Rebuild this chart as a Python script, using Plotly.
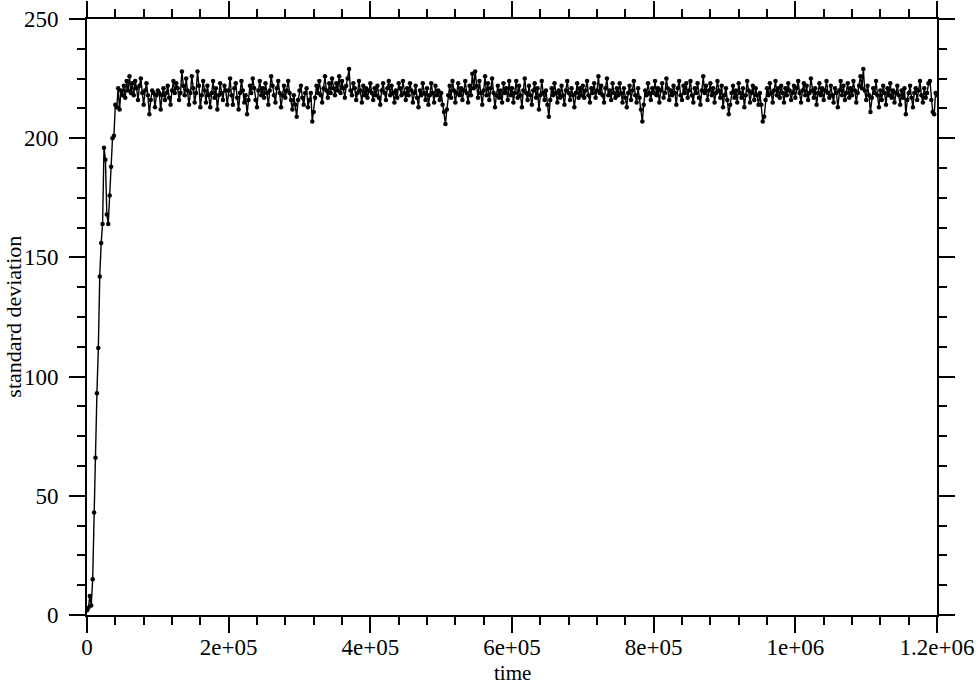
import plotly.graph_objects as go

step = 2000
rows = [
    [2,3,8,4,15,43,66,93,112,142,156,164,196,191,168,164,176,188,200,201,214,213,221,212,220],
    [218,222,217,224,220,226,219,223,218,224,221,216,222,225,219,214,220,223,218,210,216,220,219,213,218],
    [220,219,212,218,221,216,219,222,217,214,220,224,219,223,221,216,219,228,222,218,225,220,214,219,226],
    [221,215,219,228,222,213,218,224,220,215,222,218,213,219,224,217,221,212,218,223,219,216,222,220,214],
    [220,225,218,214,221,223,217,212,219,224,220,215,218,210,216,222,219,225,221,216,213,220,224,218,221],
    [217,223,219,214,220,226,222,218,215,221,224,219,213,218,222,217,220,224,219,216,212,218,214,209,216],
    [220,222,217,214,219,221,213,216,219,207,211,217,222,219,224,218,215,221,226,220,217,223,219,225,221],
    [218,223,220,226,219,224,221,217,222,225,229,220,218,223,221,216,219,224,220,215,222,218,221,217,220],
    [223,219,216,221,218,222,217,214,220,223,219,216,221,224,218,222,219,215,220,217,223,221,218,224,219],
    [216,221,218,223,220,215,219,222,217,213,220,218,223,219,216,221,214,218,223,219,215,222,218,220,216],
    [219,214,211,206,212,218,222,217,224,220,215,219,223,218,221,216,220,224,219,215,222,218,227,221,228],
    [222,217,224,219,214,220,226,218,223,216,221,225,219,213,218,222,217,220,215,223,219,221,216,224,218],
    [221,215,219,224,217,222,218,213,220,225,219,216,222,218,214,220,223,217,221,212,218,224,219,216,220],
    [214,209,216,221,218,223,219,215,220,217,222,218,214,220,224,219,216,221,218,213,219,223,217,221,218],
    [222,217,220,224,218,215,221,219,223,217,220,226,219,222,218,215,221,225,218,220,216,223,219,217,221],
    [218,223,219,215,221,217,213,219,222,216,220,224,218,215,221,217,212,207,214,220,218,223,219,216,221],
    [219,224,218,221,215,220,223,217,219,225,221,216,220,218,222,219,214,221,224,218,216,222,219,223,217],
    [220,224,218,215,221,219,223,217,214,220,226,219,222,216,220,223,218,221,215,219,224,220,217,222,213],
    [218,221,216,210,214,219,222,217,220,215,223,219,217,221,213,218,224,220,215,219,222,216,221,218,214],
    [219,214,207,209,216,221,218,223,219,215,220,224,218,221,217,222,219,215,221,218,223,220,216,219,222],
    [217,221,224,219,215,220,223,218,222,216,219,225,220,217,221,214,219,223,218,221,216,220,224,219,217],
    [222,218,215,221,219,213,220,224,218,222,216,219,223,217,221,218,224,220,215,219,222,226,221,229,220],
    [216,222,218,211,217,221,219,224,218,213,220,216,222,219,214,221,218,223,217,220,215,219,222,218,214],
    [220,217,221,210,216,219,222,217,213,219,221,216,220,224,218,215,221,217,219,223,224,216,211,210,219],
    [218],
]
std_values = [v for r in rows for v in r]
times = [i * step for i in range(len(std_values))]

x_tickvals = [0, 200000, 400000, 600000, 800000, 1000000, 1200000]
x_ticktext = ["0", "2e+05", "4e+05", "6e+05", "8e+05", "1e+06", "1.2e+06"]
y_tickvals = [0, 50, 100, 150, 200, 250]
y_ticktext = ["0", "50", "100", "150", "200", "250"]
x_title = "time"
y_title = "standard deviation"

family = "Liberation Serif, Times New Roman, serif"
font = dict(family=family, size=23, color="black")
title_font = dict(family=family, size=22, color="black")
xtitle_font = dict(family=family, size=21, color="black")

fig = go.Figure(go.Scatter(
    x=times, y=std_values, mode="lines+markers",
    line=dict(color="black", width=1.4),
    marker=dict(color="black", size=4.5, symbol="circle"),
    showlegend=False,
))

axis_common = dict(
    showgrid=False, zeroline=False, showline=True, linecolor="black", linewidth=2,
    mirror="allticks", ticks="outside", ticklen=16, tickwidth=1.5, tickcolor="black",
    tickfont=font, automargin=False,
)
fig.update_xaxes(
    range=[0, 1200000], tickmode="array", tickvals=x_tickvals, ticktext=x_ticktext,
    minor=dict(dtick=40000, ticks="outside", ticklen=8, tickwidth=1.5, tickcolor="black", showgrid=False),
    ticklabelstandoff=-6,
    **axis_common,
)
fig.update_yaxes(
    range=[0, 250], tickmode="array", tickvals=y_tickvals, ticktext=y_ticktext,
    minor=dict(dtick=12.5, ticks="outside", ticklen=8, tickwidth=1.5, tickcolor="black", showgrid=False),
    ticklabelstandoff=6,
    **axis_common,
)
fig.add_annotation(text=x_title, xref="paper", yref="paper", x=0.5, y=-0.097,
                   xanchor="center", yanchor="middle", showarrow=False, font=xtitle_font)
fig.add_annotation(text=y_title, xref="paper", yref="paper", x=-0.0875, y=0.5,
                   xanchor="center", yanchor="middle", textangle=-90, showarrow=False, font=title_font)
fig.update_layout(
    width=978, height=684,
    margin=dict(l=87, r=41, t=19, b=69),
    paper_bgcolor="white", plot_bgcolor="white",
    font=font,
)
fig.write_html("out.html", config={"displayModeBar": False},
               post_script="document.body.style.margin='0';")
